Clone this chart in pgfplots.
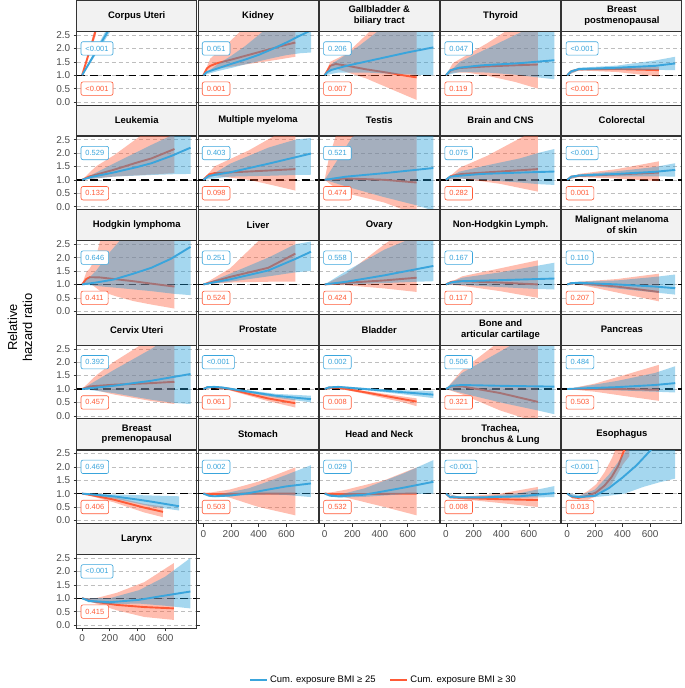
\documentclass[border=0pt]{standalone}
\usepackage{fontspec}
\setmainfont{Liberation Sans}
\usepackage{pgfplots}
\pgfplotsset{compat=1.18}
\usepgfplotslibrary{groupplots}

\definecolor{cblue}{HTML}{3AA5DC}
\definecolor{cred}{HTML}{FF5A36}
\definecolor{bfill}{HTML}{1E9AD6}
\definecolor{rfill}{HTML}{FF5A36}
\definecolor{stripbg}{HTML}{F2F2F2}
\definecolor{frame}{HTML}{333333}
\definecolor{gridc}{HTML}{BEBEBE}
\definecolor{ticktext}{HTML}{4D4D4D}

\tikzset{
  pbox/.style={draw, rounded corners=2pt, fill=white, line width=0.6pt,
    font=\fontsize{7.5}{8}\selectfont, inner xsep=4.5pt, inner ysep=0pt,
    minimum height=13.5pt, anchor=west},
}

\pgfplotsset{
  panel/.style={
    width=120.5pt, height=74pt, scale only axis,
    xmin=-39, xmax=829, ymin=-0.125, ymax=2.625,
    clip mode=individual,
    axis line style={frame, line width=0.8pt},
    ytick={0,0.5,1,1.5,2,2.5}, yticklabels={},
    xtick=\empty,
    ymajorgrids,
    major grid style={gridc, line width=0.6pt, dash pattern=on 4pt off 3pt},
    tick align=outside, major tick length=3pt,
    ytick style={draw=none},
    tick label style={font=\fontsize{10}{11}\selectfont, text=ticktext},
    every axis title shift=0pt,
    title style={at={(0.5,1)}, anchor=south, yshift=0pt, fill=stripbg, draw=frame,
      line width=0.8pt, minimum width=120.5pt, minimum height=31pt, inner sep=0pt,
      align=center, font=\bfseries\fontsize{9.5}{11}\selectfont},
  },
  ylab/.style={yticklabels={0.0,0.5,1.0,1.5,2.0,2.5}, ytick style={draw=frame, line width=0.6pt}},
  xlab/.style={xtick={0,200,400,600}, xticklabels={0,200,400,600},
    xtick style={draw=frame, line width=0.6pt}},
}

% #1 blue line, #2 blue band, #3 red line, #4 red band, #5 p blue, #6 p red
\newcommand{\panel}[6]{%
  \addplot[forget plot, black, line width=1.4pt, dash pattern=on 8pt off 5pt] coordinates {(-39,1) (829,1)};
  \addplot[forget plot, draw=none, fill=rfill, fill opacity=0.4] coordinates {#4};
  \addplot[forget plot, cred, line width=1.9pt] coordinates {#3};
  \addplot[forget plot, draw=none, fill=bfill, fill opacity=0.4] coordinates {#2};
  \addplot[forget plot, cblue, line width=1.9pt] coordinates {#1};
  \node[pbox, draw=cblue, text=cblue] at (axis cs:-10,2) {#5};
  \node[pbox, draw=cred, text=cred] at (axis cs:-10,0.5) {#6};
}

\begin{document}
\begin{tikzpicture}
\begin{groupplot}[
  group style={group size=5 by 6, horizontal sep=1.25pt, vertical sep=31pt},
  panel]

% ---- row 1
\nextgroupplot[ylab, title={Corpus Uteri}]
\coordinate (TL) at (rel axis cs:0,1);
\panel{(0,1)(50,1.44)(100,1.88)(150,2.32)(200,2.76)}
{(0,1)(50,1.5)(100,1.98)(150,2.46)(200,2.94)(200,2.6)(150,2.18)(100,1.78)(50,1.38)(0,1)}
{(0,1)(30,1.5)(60,2.0)(100,2.7)}
{(0,1)(30,1.58)(60,2.12)(100,2.9)(100,2.5)(60,1.9)(30,1.43)(0,1)}
{<0.001}{<0.001}

\nextgroupplot[title={Kidney}]
\panel{(0,1)(25,1.12)(100,1.25)(200,1.42)(300,1.58)(400,1.76)(500,1.98)(600,2.22)(700,2.48)(780,2.68)}
{(0,1)(100,1.4)(200,1.72)(300,2.08)(400,2.5)(500,2.95)(600,3.4)(780,4.2)(780,1.85)(700,1.82)(600,1.75)(500,1.64)(400,1.52)(300,1.4)(200,1.27)(100,1.15)(0,1)}
{(0,1)(25,1.25)(50,1.35)(100,1.45)(200,1.58)(300,1.72)(400,1.86)(500,2.0)(600,2.14)(665,2.22)}
{(0,1)(50,1.62)(100,1.85)(200,2.3)(300,2.8)(665,4.5)(665,1.69)(500,1.55)(300,1.4)(200,1.32)(100,1.25)(25,1.15)(0,1)}
{0.051}{0.001}

\nextgroupplot[title={Gallbladder \&\\biliary tract}]
\panel{(0,1)(20,1.12)(50,1.2)(157,1.35)(378,1.6)(599,1.85)(786,2.04)}
{(0,1)(50,1.42)(150,1.75)(250,2.1)(350,2.5)(450,2.9)(786,4.0)(786,1.0)(665,1.02)(500,1.05)(300,1.1)(100,1.1)(0,1)}
{(0,1)(40,1.35)(80,1.42)(157,1.36)(300,1.22)(450,1.1)(600,0.97)(665,0.92)}
{(0,1)(40,1.5)(100,1.65)(157,1.8)(300,2.5)(450,3.3)(665,4.5)(665,0.08)(600,0.22)(450,0.55)(300,0.88)(157,1.12)(80,1.25)(40,1.2)(0,1)}
{0.206}{0.007}

\nextgroupplot[title={Thyroid}]
\panel{(0,1)(30,1.18)(94,1.28)(259,1.37)(535,1.45)(784,1.56)}
{(0,1)(100,1.5)(300,2.0)(500,2.5)(665,2.9)(784,3.2)(784,0.85)(665,0.92)(500,1.02)(300,1.1)(100,1.12)(0,1)}
{(0,1)(40,1.2)(100,1.27)(300,1.33)(500,1.37)(665,1.4)}
{(0,1)(50,1.45)(150,1.75)(300,2.2)(450,2.7)(665,3.5)(665,0.5)(500,0.75)(300,0.98)(150,1.1)(50,1.1)(0,1)}
{0.047}{0.119}

\nextgroupplot[title={Breast\\postmenopausal}]
\panel{(0,1)(30,1.15)(83,1.23)(359,1.28)(635,1.35)(781,1.44)}
{(0,1)(83,1.28)(359,1.36)(635,1.55)(781,1.69)(781,1.19)(635,1.2)(359,1.2)(83,1.18)(0,1)}
{(0,1)(30,1.15)(83,1.22)(359,1.23)(662,1.19)}
{(0,1)(83,1.26)(359,1.28)(662,1.32)(662,0.95)(359,1.12)(83,1.18)(0,1)}
{<0.001}{<0.001}

% ---- row 2
\nextgroupplot[ylab, title={Leukemia}]
\panel{(0,1)(60,1.1)(226,1.27)(400,1.48)(502,1.62)(650,1.9)(784,2.2)}
{(0,1)(226,1.6)(500,2.3)(665,2.7)(784,2.9)(784,1.22)(665,1.21)(500,1.18)(226,1.12)(0,1)}
{(0,1)(50,1.12)(226,1.37)(400,1.65)(502,1.8)(668,2.15)}
{(0,1)(100,1.5)(226,1.9)(420,2.63)(668,3.5)(668,1.25)(500,1.2)(226,1.12)(50,1.03)(0,1)}
{0.529}{0.132}

\nextgroupplot[title={Multiple myeloma}]
\panel{(0,1)(40,1.15)(193,1.28)(469,1.6)(778,1.98)}
{(0,1)(193,1.6)(469,2.2)(665,2.5)(778,2.56)(778,1.19)(665,1.18)(469,1.15)(193,1.12)(0,1)}
{(0,1)(40,1.2)(80,1.25)(329,1.31)(665,1.4)}
{(0,1)(80,1.5)(329,2.1)(500,2.6)(665,3.1)(665,0.6)(500,0.8)(329,1.0)(80,1.15)(0,1)}
{0.403}{0.098}

\nextgroupplot[title={Testis}]
\panel{(0,1)(157,1.12)(433,1.25)(786,1.44)}
{(0,1)(100,1.8)(200,2.6)(786,4)(786,-0.15)(665,0.05)(433,0.35)(157,0.75)(0,1)}
{(0,1)(157,1.05)(433,1.0)(665,0.9)}
{(0,1)(30,1.8)(80,2.63)(665,4)(665,-0.3)(433,0.15)(157,0.5)(50,0.8)(0,1)}
{0.521}{0.474}

\nextgroupplot[title={Brain and CNS}]
\panel{(0,1)(30,1.12)(94,1.15)(259,1.22)(535,1.27)(784,1.31)}
{(0,1)(94,1.3)(259,1.5)(535,1.8)(665,2.0)(784,2.15)(784,0.81)(665,0.84)(535,0.9)(259,1.0)(94,1.05)(0,1)}
{(0,1)(40,1.15)(116,1.22)(392,1.31)(665,1.4)}
{(0,1)(100,1.45)(300,1.9)(535,2.55)(665,2.9)(665,0.56)(392,0.85)(116,1.05)(0,1)}
{0.075}{0.282}

\nextgroupplot[title={Colorectal}]
\panel{(0,1)(30,1.12)(83,1.16)(359,1.22)(635,1.3)(781,1.37)}
{(0,1)(83,1.2)(359,1.32)(635,1.48)(781,1.62)(781,1.12)(635,1.13)(359,1.13)(83,1.12)(0,1)}
{(0,1)(30,1.12)(83,1.15)(359,1.2)(662,1.27)}
{(0,1)(83,1.22)(359,1.4)(662,1.69)(662,0.95)(359,1.05)(83,1.1)(0,1)}
{<0.001}{0.001}

% ---- row 3
\nextgroupplot[ylab, title={Hodgkin lymphoma}]
\panel{(0,1)(100,1.07)(226,1.18)(370,1.4)(500,1.62)(640,1.95)(784,2.4)}
{(0,1)(100,1.5)(200,2.2)(300,2.8)(784,5)(784,0.6)(665,0.65)(500,0.75)(300,0.85)(150,0.92)(0,1)}
{(0,1)(30,1.2)(56,1.27)(132,1.26)(250,1.19)(370,1.12)(500,1.03)(668,0.92)}
{(0,1)(30,1.45)(56,1.6)(100,2.0)(130,2.63)(668,5)(668,0.1)(500,0.25)(370,0.38)(250,0.55)(132,0.75)(56,1.05)(0,1)}
{0.646}{0.411}

\nextgroupplot[title={Liver}]
\panel{(0,1)(193,1.19)(469,1.52)(665,1.95)(778,2.22)}
{(0,1)(193,1.4)(469,2.0)(665,2.5)(778,2.6)(778,1.5)(665,1.45)(469,1.3)(193,1.1)(0,1)}
{(0,1)(193,1.28)(469,1.62)(665,2.15)}
{(0,1)(193,1.6)(400,2.63)(665,3.5)(665,1.1)(469,1.1)(193,1.07)(0,1)}
{0.251}{0.524}

\nextgroupplot[title={Ovary}]
\panel{(0,1)(157,1.1)(433,1.34)(786,1.69)}
{(0,1)(157,1.5)(433,2.3)(665,2.8)(786,3.0)(786,1.12)(665,1.1)(433,1.05)(157,1.0)(0,1)}
{(0,1)(157,1.06)(433,1.15)(665,1.25)}
{(0,1)(157,1.4)(433,2.5)(665,3.3)(665,0.72)(433,0.85)(157,0.97)(0,1)}
{0.558}{0.424}

\nextgroupplot[title={Non-Hodgkin Lymph.}]
\panel{(0,1)(40,1.08)(116,1.12)(392,1.16)(784,1.22)}
{(0,1)(116,1.25)(392,1.45)(665,1.7)(784,1.81)(784,0.81)(665,0.83)(392,0.9)(116,0.98)(0,1)}
{(0,1)(40,1.1)(116,1.12)(392,1.07)(665,1.0)}
{(0,1)(116,1.3)(392,1.6)(665,1.9)(665,0.5)(392,0.75)(116,0.95)(0,1)}
{0.167}{0.117}

\nextgroupplot[title={Malignant melanoma\\of skin}]
\panel{(0,1)(30,1.05)(83,1.06)(359,1.0)(635,0.92)(781,0.86)}
{(0,1)(83,1.1)(359,1.15)(635,1.28)(781,1.37)(781,0.62)(635,0.7)(359,0.85)(83,1.0)(0,1)}
{(0,1)(30,1.05)(83,1.05)(359,0.92)(662,0.72)}
{(0,1)(83,1.1)(359,1.2)(662,1.4)(662,0.37)(359,0.7)(83,1.0)(0,1)}
{0.110}{0.207}

% ---- row 4
\nextgroupplot[ylab, title={Cervix Uteri}]
\panel{(0,1)(226,1.12)(502,1.31)(784,1.56)}
{(0,1)(226,1.7)(502,2.5)(784,3.5)(784,0.44)(665,0.48)(502,0.6)(226,0.85)(0,1)}
{(0,1)(60,1.1)(226,1.16)(502,1.22)(668,1.27)}
{(0,1)(100,1.5)(226,2.0)(420,2.63)(668,3.2)(668,0.44)(502,0.55)(226,0.8)(60,1.0)(0,1)}
{0.392}{0.457}

\nextgroupplot[title={Prostate}]
\panel{(0,1)(30,1.07)(80,1.08)(135,1.06)(329,0.9)(522,0.75)(778,0.62)}
{(0,1)(80,1.1)(329,0.95)(522,0.82)(778,0.75)(778,0.5)(522,0.68)(329,0.86)(80,1.05)(0,1)}
{(0,1)(30,1.07)(80,1.07)(190,1.0)(329,0.82)(467,0.65)(665,0.47)}
{(0,1)(80,1.1)(190,1.05)(467,0.76)(665,0.62)(665,0.31)(467,0.55)(190,0.95)(80,1.04)(0,1)}
{<0.001}{0.061}

\nextgroupplot[title={Bladder}]
\panel{(0,1)(30,1.06)(100,1.08)(290,1.0)(569,0.88)(786,0.79)}
{(0,1)(100,1.11)(290,1.04)(569,0.95)(786,0.93)(786,0.66)(569,0.8)(290,0.96)(100,1.05)(0,1)}
{(0,1)(30,1.05)(100,1.05)(290,0.88)(569,0.62)(665,0.53)}
{(0,1)(100,1.08)(290,0.93)(569,0.72)(665,0.65)(665,0.36)(569,0.5)(290,0.82)(100,1.02)(0,1)}
{0.002}{0.008}

\nextgroupplot[title={Bone and\\articular cartilage}]
\panel{(0,1)(40,1.12)(116,1.15)(392,1.12)(784,1.09)}
{(0,1)(116,1.6)(392,2.4)(665,3.2)(784,3.5)(784,0.06)(665,0.2)(392,0.5)(116,0.85)(0,1)}
{(0,1)(40,1.1)(116,1.1)(392,0.85)(665,0.52)}
{(0,1)(116,1.7)(350,2.63)(665,3.3)(665,-0.25)(392,0.2)(116,0.8)(0,1)}
{0.506}{0.321}

\nextgroupplot[title={Pancreas}]
\panel{(0,1)(83,1.02)(359,1.07)(635,1.15)(781,1.22)}
{(0,1)(359,1.3)(635,1.6)(781,1.85)(781,0.87)(635,0.9)(359,0.95)(0,1)}
{(0,1)(359,1.0)(662,0.97)}
{(0,1)(200,1.2)(400,1.5)(662,1.9)(662,0.56)(400,0.75)(200,0.9)(0,1)}
{0.484}{0.503}

% ---- row 5
\nextgroupplot[ylab, title={Breast\\premenopausal}]
\panel{(0,1)(50,0.98)(226,0.9)(400,0.78)(502,0.7)(701,0.53)}
{(0,1)(226,0.97)(502,0.93)(701,0.9)(701,0.37)(502,0.52)(226,0.82)(0,1)}
{(0,1)(50,0.96)(226,0.78)(447,0.48)(585,0.32)}
{(0,1)(226,0.88)(447,0.62)(585,0.52)(585,0.12)(447,0.3)(226,0.68)(0,1)}
{0.469}{0.406}

\nextgroupplot[xlab, title={Stomach}]
\panel{(0,1)(40,0.92)(80,0.9)(200,0.93)(329,1.02)(467,1.15)(600,1.27)(778,1.38)}
{(0,1)(80,0.93)(329,1.2)(467,1.45)(600,1.7)(778,2.06)(778,0.87)(600,0.95)(467,0.97)(329,0.95)(80,0.87)(0,1)}
{(0,1)(80,0.98)(300,1.0)(665,1.0)}
{(0,1)(190,1.15)(400,1.45)(665,1.98)(665,0.19)(400,0.5)(190,0.85)(0,1)}
{0.002}{0.503}

\nextgroupplot[xlab, title={Head and Neck}]
\panel{(0,1)(40,0.92)(100,0.9)(290,0.96)(569,1.22)(786,1.44)}
{(0,1)(100,0.95)(290,1.2)(569,1.75)(786,2.25)(786,1.0)(569,0.98)(290,0.88)(100,0.85)(0,1)}
{(0,1)(100,0.98)(665,1.0)}
{(0,1)(157,1.15)(433,1.5)(665,1.98)(665,0.19)(433,0.5)(157,0.85)(0,1)}
{0.029}{0.532}

\nextgroupplot[xlab, title={Trachea,\\bronchus \& Lung}]
\panel{(0,1)(30,0.87)(100,0.86)(259,0.86)(535,0.9)(784,1.02)}
{(0,1)(100,0.89)(259,0.9)(535,1.02)(784,1.28)(784,0.87)(535,0.85)(259,0.83)(100,0.83)(0,1)}
{(0,1)(30,0.86)(100,0.84)(392,0.79)(665,0.76)}
{(0,1)(100,0.88)(392,1.0)(665,1.25)(665,0.5)(392,0.65)(100,0.8)(0,1)}
{<0.001}{0.008}

\nextgroupplot[xlab, title={Esophagus}]
\panel{(0,1)(30,0.9)(83,0.87)(200,0.92)(300,1.2)(400,1.6)(500,2.05)(600,2.6)(700,3.2)}
{(0,1)(100,0.95)(200,1.15)(300,1.7)(400,2.4)(500,3.2)(781,5)(781,1.56)(665,1.42)(550,1.25)(415,1.0)(300,0.92)(200,0.87)(100,0.85)(0,1)}
{(0,1)(40,0.86)(80,0.84)(150,0.92)(210,1.05)(270,1.3)(321,1.62)(370,2.05)(410,2.6)(450,3.1)}
{(0,1)(80,0.9)(150,1.1)(210,1.35)(270,1.8)(321,2.3)(370,2.9)(450,3.5)(450,2.4)(404,2.1)(321,1.35)(270,1.1)(210,0.9)(150,0.78)(80,0.78)(0,1)}
{<0.001}{0.013}

% ---- row 6
\nextgroupplot[ylab, xlab, title={Larynx},
  legend style={at={(2.556,-0.70)}, anchor=center, draw=none, fill=none,
    font=\fontsize{9.5}{11}\selectfont, legend columns=2,
    /tikz/every even column/.append style={column sep=12pt}},
  legend cell align=left]
\addlegendimage{cblue, line width=2pt}
\addlegendentry{Cum. exposure BMI ≥ 25}
\addlegendimage{cred, line width=2pt}
\addlegendentry{Cum. exposure BMI ≥ 30}
\panel{(0,1)(47,0.9)(200,0.85)(412,0.94)(600,1.1)(783,1.25)}
{(0,1)(200,1.0)(412,1.3)(600,1.8)(783,2.5)(783,0.62)(600,0.72)(412,0.8)(200,0.78)(47,0.85)(0,1)}
{(0,1)(80,0.88)(250,0.75)(450,0.67)(663,0.62)}
{(0,1)(100,1.0)(250,1.2)(450,1.6)(663,2.31)(663,0.19)(450,0.3)(250,0.55)(100,0.8)(0,1)}
{<0.001}{0.415}
\end{groupplot}

\node[rotate=90, align=center, font=\fontsize{13}{15}\selectfont]
  at ([shift={(-57pt,-297pt)}]TL) {Relative\\hazard ratio};
\path[use as bounding box] ([shift={(-77pt,31pt)}]TL) rectangle ([shift={(608pt,-657pt)}]TL);
\end{tikzpicture}
\end{document}
